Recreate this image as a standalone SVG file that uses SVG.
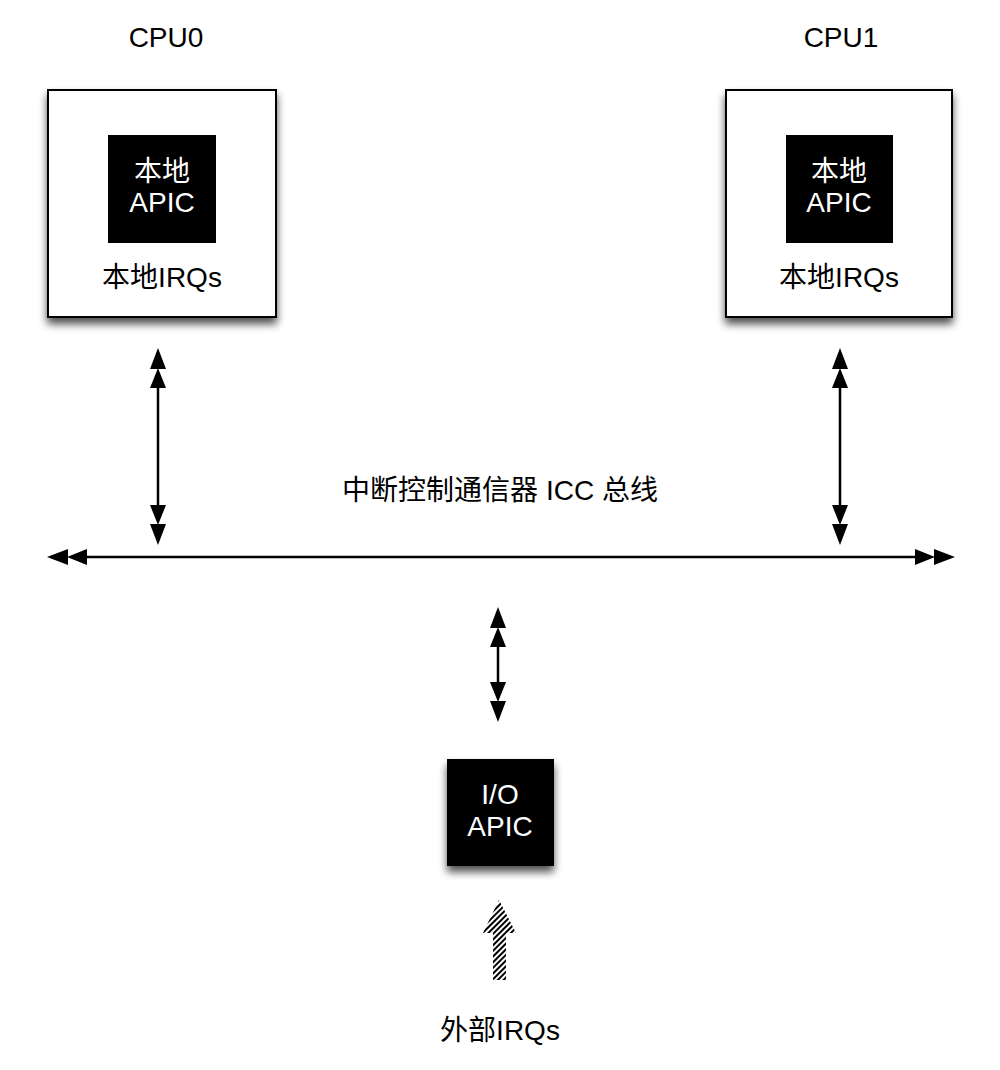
<svg xmlns="http://www.w3.org/2000/svg" width="1000" height="1070" viewBox="0 0 1000 1070">
<style>
text{font-family:"Liberation Sans","Noto Sans CJK SC",sans-serif;font-size:28px;text-anchor:middle;fill:#000}
.w{fill:#fff}
.outer{fill:#fff;stroke:#000;stroke-width:2}
.inner{fill:#000}
.conn{stroke:#000;stroke-width:2.5;fill:none;marker-start:url(#dh);marker-end:url(#dh)}
</style>
<defs>
<filter id="sh" x="-20%" y="-20%" width="140%" height="150%">
<feGaussianBlur in="SourceAlpha" stdDeviation="4"/>
<feOffset dx="0" dy="6" result="b"/>
<feComponentTransfer><feFuncA type="linear" slope="0.7"/></feComponentTransfer>
<feMerge><feMergeNode/><feMergeNode in="SourceGraphic"/></feMerge>
</filter>
<marker id="dh" viewBox="-42 -10 44 20" markerWidth="44" markerHeight="20" refX="-40" refY="0" markerUnits="userSpaceOnUse" orient="auto-start-reverse">
<path d="M0,0 L-21,-8 L-21,8 Z M-20,0 L-40,-8 L-40,8 Z" fill="#000"/>
</marker>
<pattern id="hatch" width="4" height="4" patternUnits="userSpaceOnUse" patternTransform="rotate(45)">
<rect width="4" height="4" fill="#fff"/>
<rect width="2" height="4" fill="#000"/>
</pattern>
</defs>
<g id="cpu0">
<text x="166" y="47">CPU0</text>
<rect class="outer" x="48" y="90" width="228" height="227" filter="url(#sh)"/>
<rect class="inner" x="108" y="135" width="108" height="108"/>
<text class="w" x="162" y="181">本地</text>
<text class="w" x="162" y="212">APIC</text>
<text x="162" y="287">本地IRQs</text>
</g>
<g id="cpu1">
<text x="841" y="47">CPU1</text>
<rect class="outer" x="726" y="90" width="226" height="227" filter="url(#sh)"/>
<rect class="inner" x="786" y="135" width="107" height="108"/>
<text class="w" x="839" y="181">本地</text>
<text class="w" x="839" y="212">APIC</text>
<text x="839" y="287">本地IRQs</text>
</g>
<g id="bus">
<text x="500" y="500">中断控制通信器 ICC 总线</text>
</g>
<g id="ioapic">
<rect class="inner" x="447" y="759" width="107" height="107" filter="url(#sh)"/>
<text class="w" x="500" y="804">I/O</text>
<text class="w" x="500" y="836">APIC</text>
</g>
<g id="external">
<path d="M499,900 L516,933 L506,933 L506,980 L493,980 L493,933 L483,933 Z" fill="url(#hatch)"/>
<text x="500" y="1040">外部IRQs</text>
</g>
<g id="connectors">
<line class="conn" x1="87" y1="557" x2="915" y2="557"/>
<line class="conn" x1="158" y1="388" x2="158" y2="505"/>
<line class="conn" x1="840" y1="388" x2="840" y2="505"/>
<line class="conn" x1="498" y1="647" x2="498" y2="682"/>
</g>
</svg>
